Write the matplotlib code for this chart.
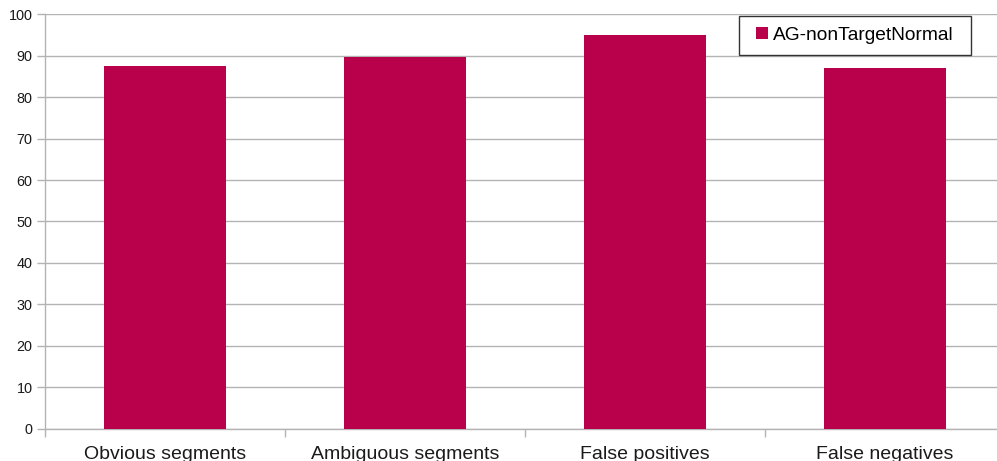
import numpy as np
import matplotlib.pyplot as plt
from matplotlib.patches import Rectangle

plt.rcParams['font.family'] = ['Liberation Sans', 'DejaVu Sans']

# Data
categories = ['Obvious segments', 'Ambiguous segments', 'False positives', 'False negatives']
values = [87.6, 89.8, 95.0, 87.1]
series_name = 'AG-nonTargetNormal'

bar_color = '#b9004b'
grid_color = '#b3b3b3'

W, H = 997, 461
fig = plt.figure(figsize=(W / 100, H / 100), dpi=100)
# axes runs a bit past the right edge of the image, as in the reference
ax = fig.add_axes([45 / W, 32.5 / H, 960 / W, 414 / H])

x = np.arange(len(categories))
ax.bar(x, values, width=0.505, color=bar_color, label=series_name, zorder=3)

ax.set_xlim(-0.5, len(categories) - 0.5)
ax.set_ylim(0, 100)
ax.set_yticks(np.arange(0, 101, 10))
ax.yaxis.grid(True, color=grid_color, linewidth=1, zorder=0)

# category labels at centres, tick marks at boundaries
ax.set_xticks(x)
ax.set_xticklabels(categories, fontsize=14)
ax.tick_params(axis='x', length=0, pad=12.5, colors='#1a1a1a')
ax.set_xticks(np.arange(-0.5, len(categories), 1), minor=True)
ax.tick_params(axis='x', which='minor', length=6, color=grid_color, width=1)
ax.tick_params(axis='y', length=6, color=grid_color, width=1, labelsize=10.4,
               labelcolor='#1a1a1a', pad=3)

for side in ['top', 'right']:
    ax.spines[side].set_visible(False)
for side in ['left', 'bottom']:
    ax.spines[side].set_color(grid_color)
    ax.spines[side].set_linewidth(1)

# legend: frame drawn separately so the padding matches the reference
frame = Rectangle((739 / W, 1 - 55 / H), 232 / W, 39 / H, transform=fig.transFigure,
                  facecolor='white', edgecolor='#333333', linewidth=1, zorder=4)
fig.patches.append(frame)
leg = fig.legend(loc='center left', bbox_to_anchor=(756 / W, 1 - 35.5 / H),
                 fontsize=13.8, frameon=False, borderaxespad=0, borderpad=0,
                 handlelength=0.62, handleheight=0.62, handletextpad=0.27)
leg.set_zorder(5)

fig.savefig('out.png', dpi=100)
